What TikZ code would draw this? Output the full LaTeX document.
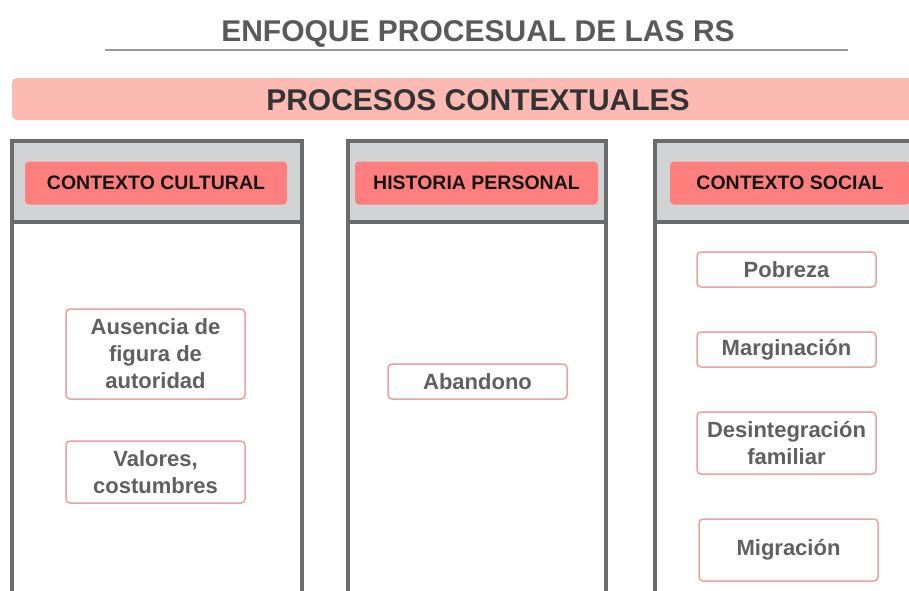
\documentclass[tikz,border=0pt]{standalone}
\usepackage{fontspec}
\setmainfont{Liberation Sans}
\definecolor{bandpink}{HTML}{FCBAB2}
\definecolor{headred}{HTML}{FF7F7F}
\definecolor{panelgray}{HTML}{D1D3D4}
\definecolor{framegray}{HTML}{6B6B6B}
\definecolor{itemline}{HTML}{E8A2A2}
\definecolor{itemtext}{HTML}{606060}
\definecolor{titlegray}{HTML}{5A5A5A}
\begin{document}
\begin{tikzpicture}[x=1pt, y=-1pt,
    item/.style={draw=itemline, line width=1.5pt, rounded corners=4pt, fill=white,
        minimum width=179pt, align=center, text=itemtext, inner sep=2pt,
        font=\fontsize{22}{27}\selectfont\bfseries},
    head/.style={fill=headred, rounded corners=4pt, minimum height=43pt,
        font=\fontsize{19.5}{23}\selectfont\bfseries, text=black!92}]
    \useasboundingbox (0,0) rectangle (909,590);
    \clip (0,0) rectangle (909,590);

    % titulo y banda
    \node [text=titlegray, font=\fontsize{30}{36}\selectfont\bfseries] (t) at (478,34) {ENFOQUE PROCESUAL DE LAS RS};
    \draw [gray!80, line width=2pt] (105,50) -- (848,50);
    \fill [bandpink, rounded corners=5pt] (12,78) rectangle (930,120);
    \node [text=black!80, font=\fontsize{30}{36}\selectfont\bfseries] (p) at (478,100) {PROCESOS CONTEXTUALES};

    % columnas
    \foreach \l/\r in {12/302, 348/606, 655/920} {
        \fill [panelgray] (\l,141) rectangle (\r,222);
        \draw [framegray, line width=4pt] (\l,600) -- (\l,141) -- (\r,141) -- (\r,600);
        \draw [framegray, line width=4pt] (\l,222) -- (\r,222);
    }

    % cabeceras
    \node [head, minimum width=262pt] (h1) at (156,183) {CONTEXTO CULTURAL};
    \node [head, minimum width=243pt] (h2) at (476.5,183) {HISTORIA PERSONAL};
    \node [head, minimum width=240pt] (h3) at (790,183) {CONTEXTO SOCIAL};

    % elementos
    \node [item, minimum height=90pt] (a) at (155.5,354) {Ausencia de\\figura de\\autoridad};
    \node [item, minimum height=62pt] (b) at (155.5,472) {Valores,\\costumbres};
    \node [item, minimum height=35pt] (c) at (477.5,381.5) {Abandono};
    \node [item, minimum height=35pt] (d) at (786.5,269.5) {Pobreza};
    \node [item, minimum height=35pt] (e) at (786.5,349.5) {Marginación};
    \node [item, minimum height=62pt] (f) at (786.5,443) {Desintegración\\familiar};
    \node [item, minimum height=62pt] (g) at (788.5,550) {Migración};
\end{tikzpicture}
\end{document}
